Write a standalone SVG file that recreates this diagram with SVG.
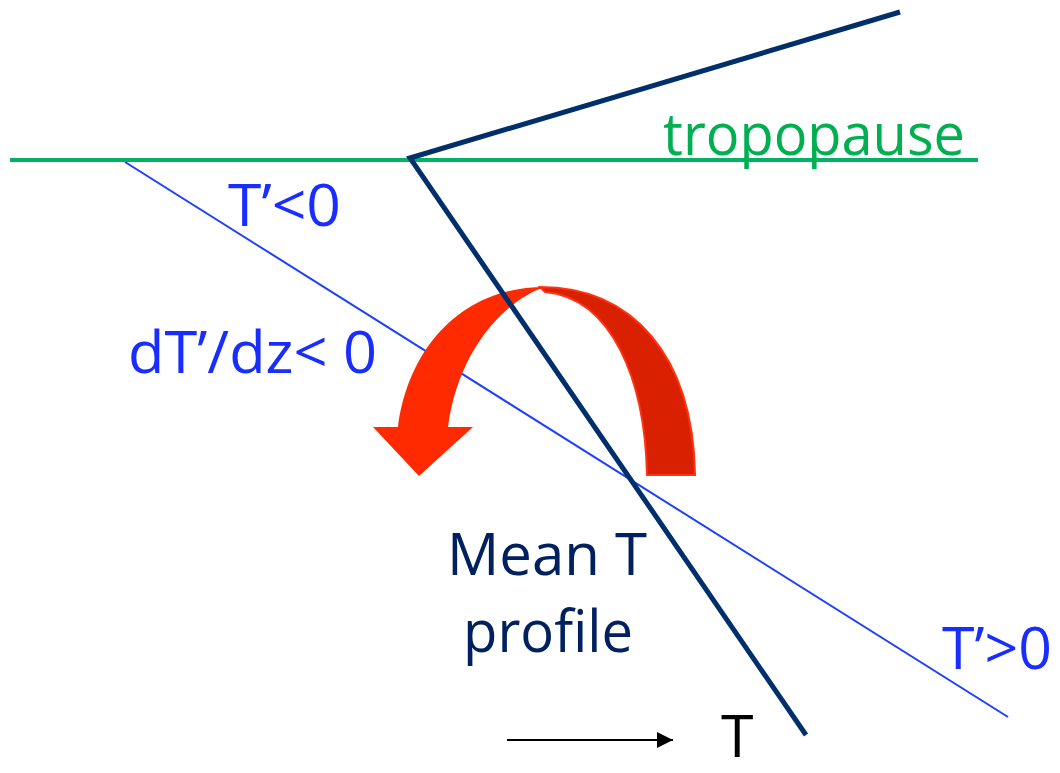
<svg xmlns="http://www.w3.org/2000/svg" width="1060" height="773" viewBox="0 0 1060 773">
<style>
text{font-family:"Open Sans","Noto Sans",sans-serif;font-size:59px}
.blue{fill:#1a2dff}
.navy{fill:#002060}
.green{fill:#00b050}
</style>
<defs>
<marker id="ah" viewBox="0 0 16 16" refX="16" refY="8" markerWidth="16" markerHeight="16" markerUnits="userSpaceOnUse" orient="auto">
<path d="M0,0 L16,8 L0,16 Z" fill="#000"/>
</marker>
</defs>
<rect width="1060" height="773" fill="#fff"/>
<g id="connectors">
<line id="perturbation" x1="125" y1="162" x2="1008" y2="717" stroke="#1f3fff" stroke-width="2"/>
<line id="tropopause-line" x1="10" y1="160" x2="978" y2="160" stroke="#00b364" stroke-width="4"/>
</g>
<g id="curl-arrow">
<path d="M540,287 C632,287 693,355 695,475 L647,475 C645,380 612,298 545,292 Z" fill="#d92000" stroke="#ff3311" stroke-width="2"/>
<path d="M398,427 C408,350 460,287 545,287 C505,300 458,350 448,427 L473,427 L419,476 L373,427 Z" fill="#ff2a00"/>
</g>
<g id="mean-profile">
<polyline points="900,12 410,158 806,735" fill="none" stroke="#002f6c" stroke-width="5"/>
</g>
<g id="t-axis">
<line x1="507" y1="740" x2="673" y2="740" stroke="#000" stroke-width="2" marker-end="url(#ah)"/>
<text x="721" y="757" fill="#000">T</text>
</g>
<g id="labels">
<text class="green" x="663" y="155" textLength="302" lengthAdjust="spacingAndGlyphs">tropopause</text>
<text class="blue" x="228" y="226" textLength="113" lengthAdjust="spacingAndGlyphs">T’&lt;0</text>
<text class="blue" x="128" y="373" textLength="249" lengthAdjust="spacingAndGlyphs">dT’/dz&lt; 0</text>
<text class="navy" x="447" y="575" textLength="200" lengthAdjust="spacingAndGlyphs">Mean T</text>
<text class="navy" x="463" y="652" textLength="170" lengthAdjust="spacingAndGlyphs">profile</text>
<text class="blue" x="942" y="669" textLength="110" lengthAdjust="spacingAndGlyphs">T’&gt;0</text>
</g>
</svg>
